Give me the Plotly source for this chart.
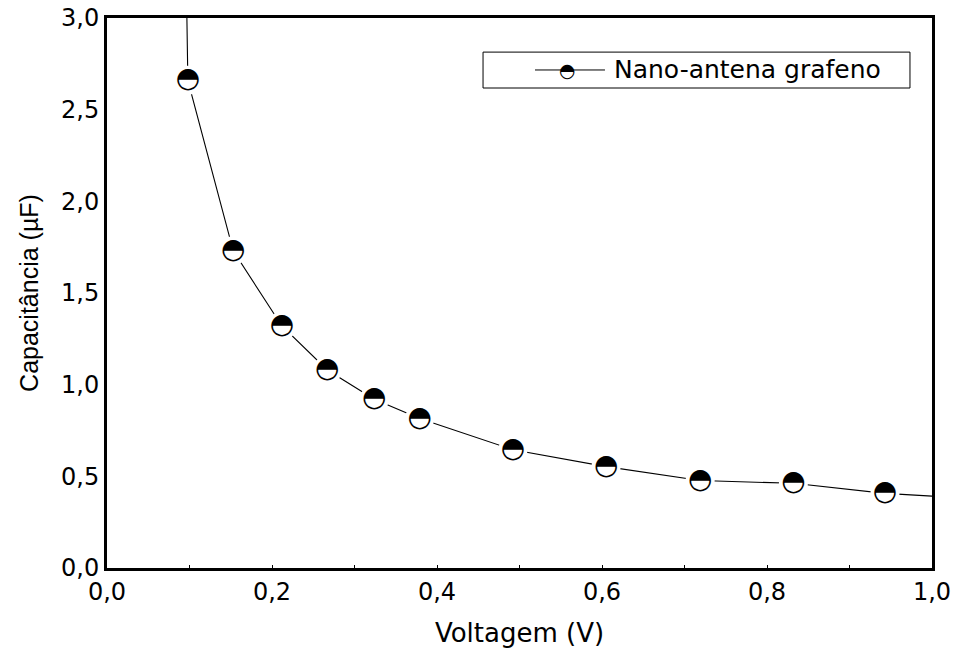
import plotly.graph_objects as go

# Data
voltage = [0.098, 0.153, 0.212, 0.267, 0.324, 0.379, 0.492, 0.605, 0.719, 0.832, 0.943]
capacitance = [2.66, 1.73, 1.32, 1.08, 0.92, 0.815, 0.645, 0.553, 0.477, 0.462, 0.407]

# Curve continues beyond the measured points at both ends
curve_start_x, curve_start_y = [0.0965], [3.10]
curve_end_x, curve_end_y = [1.0], [0.392]

series_name = "Nano-antena grafeno"
x_title = "Voltagem (V)"
y_title = "Capacitância (µF)"

WIDE = "DejaVu Sans, Verdana, sans-serif"
ARIAL = "Liberation Sans, Arial, sans-serif"

fig = go.Figure()

# connecting line
fig.add_trace(go.Scatter(
    x=curve_start_x + voltage + curve_end_x,
    y=curve_start_y + capacitance + curve_end_y,
    mode="lines", line=dict(color="black", width=1.1),
    showlegend=False, hoverinfo="skip", cliponaxis=True))

# white halo so the line stops short of each marker
fig.add_trace(go.Scatter(
    x=voltage, y=capacitance, mode="markers",
    marker=dict(symbol="circle", size=29, color="white", line=dict(width=0)),
    showlegend=False, hoverinfo="skip", cliponaxis=False))

# half-filled circle glyph
fig.add_trace(go.Scatter(
    x=voltage, y=capacitance, mode="text", text=["◓"] * len(voltage),
    textposition="middle center",
    textfont=dict(family="DejaVu Sans", size=28, color="black"),
    showlegend=False, hoverinfo="skip", cliponaxis=False))

# manual legend
fig.add_shape(type="rect", xref="paper", yref="paper",
              x0=0.4558, x1=0.9733, y0=0.8727, y1=0.938,
              line=dict(color="black", width=1), fillcolor="white")
fig.add_shape(type="line", xref="paper", yref="paper",
              x0=0.5188, x1=0.6036, y0=0.9055, y1=0.9055,
              line=dict(color="black", width=1))
fig.add_annotation(xref="paper", yref="paper", x=0.5576, y=0.9055,
                   text="◓", showarrow=False, bgcolor="rgba(0,0,0,0)",
                   font=dict(family="DejaVu Sans", size=19, color="black"),
                   xanchor="center", yanchor="middle")
fig.add_annotation(xref="paper", yref="paper", x=0.6125, y=0.9055,
                   text=series_name, showarrow=False,
                   font=dict(family=WIDE, size=25, color="black"),
                   xanchor="left", yanchor="middle")

fig.update_layout(
    width=955, height=651,
    margin=dict(l=107, r=23, t=18, b=83),
    paper_bgcolor="white", plot_bgcolor="white",
    separators=",.",
    showlegend=False,
    font=dict(family=WIDE, size=24, color="black"),
    xaxis=dict(range=[0, 1.0], dtick=0.2, tick0=0, tickformat=".1f",
               automargin=False,
               showgrid=False, zeroline=False,
               showline=True, linewidth=3, linecolor="black", mirror=True,
               ticks="inside", ticklen=3, tickwidth=1, tickcolor="black",
               minor=dict(dtick=0.1, ticks="inside", ticklen=3, tickwidth=1, tickcolor="black"),
               title=dict(text=x_title, font=dict(family=WIDE, size=26), standoff=20),
               tickfont=dict(family=WIDE, size=24)),
    yaxis=dict(range=[0, 3.0], dtick=0.5, tick0=0, tickformat=".1f",
               automargin=False,
               showgrid=False, zeroline=False,
               showline=True, linewidth=3, linecolor="black", mirror=True,
               ticks="",
               title=dict(text=y_title, font=dict(family=ARIAL, size=25), standoff=16),
               tickfont=dict(family=WIDE, size=24)),
)

fig.write_html("out.html")
